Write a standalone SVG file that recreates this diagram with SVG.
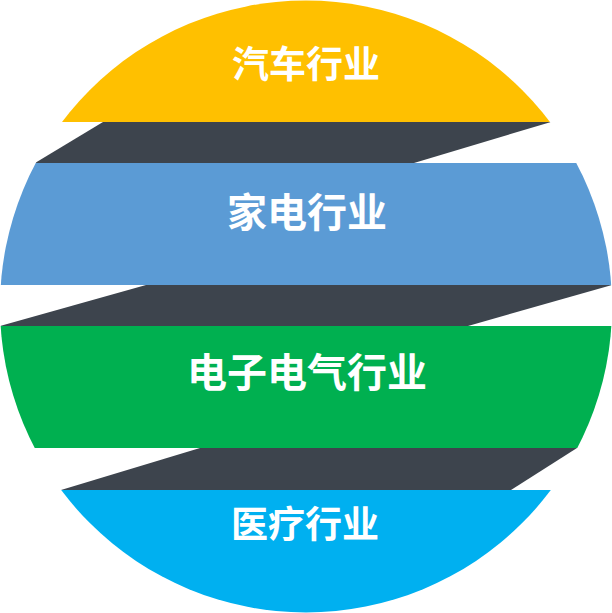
<svg xmlns="http://www.w3.org/2000/svg" width="612" height="613" viewBox="0 0 612 613">
<style>
.t{font-family:"Noto Sans CJK SC","Liberation Sans",sans-serif;font-weight:bold;fill:#fff;text-anchor:middle;dominant-baseline:central}
.d{fill:#3D444D}
</style>
<defs><clipPath id="c"><circle cx="306" cy="306.5" r="306"/></clipPath></defs>
<rect width="612" height="613" fill="#fff"/>
<g id="connectors" clip-path="url(#c)">
<polygon class="d" points="103,122 551,122 414,163 35,163"/>
<polygon class="d" points="146,285 612,285 468,326 0,326"/>
<polygon class="d" points="200,448 577,448 511,490 61,490"/>
</g>
<g clip-path="url(#c)">
<g id="auto"><rect x="0" y="0" width="612" height="122" fill="#FFC000"/><text class="t" x="306" y="62" font-size="37">汽车行业</text></g>
<g id="appliance"><rect x="0" y="163" width="612" height="122" fill="#5B9BD5"/><text class="t" x="307" y="210" font-size="40">家电行业</text></g>
<g id="electronics"><rect x="0" y="326" width="612" height="122" fill="#00B050"/><text class="t" x="307" y="370" font-size="40">电子电气行业</text></g>
<g id="medical"><rect x="0" y="490" width="612" height="123" fill="#00B0F0"/><text class="t" x="305" y="522" font-size="37">医疗行业</text></g>
</g>
</svg>
